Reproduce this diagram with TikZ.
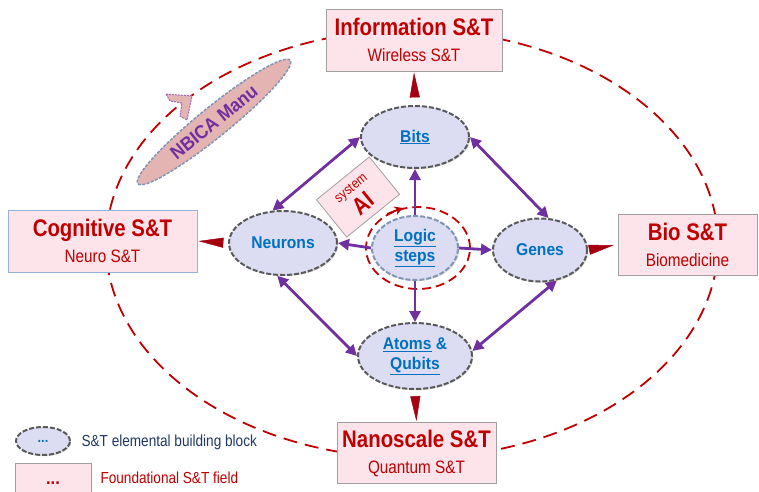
\documentclass[tikz,border=0pt]{standalone}
\usepackage{fontspec}
\setmainfont{Liberation Sans}
\newfontfamily\nfam{Liberation Sans}[FakeStretch=0.85]
\newfontfamily\wfam{Liberation Sans}[FakeStretch=0.92]
\usetikzlibrary{shapes.geometric,arrows.meta,shadows}
\definecolor{dkred}{HTML}{C00000}
\definecolor{wred}{HTML}{A50010}
\definecolor{pinkfill}{HTML}{FDE4EA}
\definecolor{boxgray}{HTML}{A0A0A0}
\definecolor{cogblue}{HTML}{95B3D7}
\definecolor{lav}{HTML}{DCDDF3}
\definecolor{ellgray}{HTML}{5A5A5A}
\definecolor{ellblue}{HTML}{7F95B5}
\definecolor{purp}{HTML}{7030A0}
\definecolor{blu}{HTML}{0070C0}
\definecolor{rosy}{HTML}{E3B4B2}
\definecolor{navy}{HTML}{1F3864}
\begin{document}
\begin{tikzpicture}[x=1pt,y=-1pt,
  fbox/.style={draw=boxgray, line width=0.8pt, fill=pinkfill, text=dkred, align=center,
    font=\nfam\fontsize{18}{26}\selectfont, inner sep=0pt},
  blk/.style={ellipse, draw=ellgray, line width=2pt, dash pattern=on 5pt off 2pt, fill=lav,
    text=blu, font=\wfam\bfseries\fontsize{17}{20}\selectfont, align=center, inner sep=0pt,
    drop shadow={opacity=0.3, shadow xshift=1.2pt, shadow yshift=-1.2pt}},
  parrow/.style={draw=purp, line width=2.8pt},
  >={Triangle[length=11pt,width=11pt]},
  wedge/.style={draw=wred, fill=wred, line width=0.5pt, -{Triangle[length=25pt,width=10pt]}},
  bigring/.style={draw=dkred, line width=1.8pt, dash pattern=on 14pt off 8pt},
]
\useasboundingbox (0,0) rectangle (759,491);
\clip (0,0) rectangle (759,491);

% big dashed ellipse
\draw[bigring] (412,244) ellipse [x radius=306, y radius=214];

% foundational fields
\node[fbox, minimum width=176pt, minimum height=62pt] (info) at (414,40)
  {{\bfseries\fontsize{24}{26}\selectfont Information S\&T}\\Wireless S\&T};
\node[fbox, draw=cogblue, minimum width=189pt, minimum height=62pt] (cog) at (102.5,241)
  {{\bfseries\fontsize{24}{26}\selectfont Cognitive S\&T}\\Neuro S\&T};
\node[fbox, minimum width=139pt, minimum height=61pt] (bio) at (687.5,244.5)
  {{\bfseries\fontsize{24}{26}\selectfont Bio S\&T}\\Biomedicine};
\node[fbox, minimum width=159pt, minimum height=61pt] (nano) at (416.5,453)
  {{\bfseries\fontsize{24}{26}\selectfont Nanoscale S\&T}\\Quantum S\&T};

% building blocks
\node[blk, minimum width=108pt, minimum height=62pt] (bits) at (415,137) {\underline{Bits}};
\node[blk, minimum width=108pt, minimum height=64pt] (neurons) at (283,243) {Neurons};
\node[blk, minimum width=94pt, minimum height=63pt] (genes) at (540,250) {Genes};
\node[blk, draw=ellblue, minimum width=86pt, minimum height=64pt] (logic) at (415,248)
  {\underline{Logic}\\\underline{steps}};
\node[blk, minimum width=114pt, minimum height=66pt] (atoms) at (415,356)
  {\underline{Atoms} \&\\\underline{Qubits}};

% red ring around logic
\node[ellipse, draw=dkred, line width=1.8pt, dash pattern=on 9pt off 5pt,
  minimum width=104pt, minimum height=82pt, inner sep=0pt] (ring) at (418,248) {};
\draw[dkred, line width=1.8pt, -{Stealth[length=8pt,width=9pt]}] (ring.132) -- (ring.111);

% wedges to fields
\draw[wedge, shorten <=8pt, shorten >=1pt] (bits.north) -- (info.south);
\draw[wedge, shorten <=7pt, shorten >=1pt] (neurons.west) -- (cog.east);
\draw[wedge, shorten <=1pt, shorten >=4pt] (genes.east) -- (bio.west);
\draw[wedge, shorten <=6pt, shorten >=1pt] (atoms.south) -- (nano.north);

% purple connectors
\draw[parrow, <->] (neurons.108) -- (bits.180);
\draw[parrow, <->] (bits.0) -- (genes.75);
\draw[parrow, <->] (neurons.260) -- (atoms.180);
\draw[parrow, <->] (atoms.5) -- (genes.299);
\draw[parrow, ->] (logic.north) -- (bits.south);
\draw[parrow, ->] (logic.west) -- (neurons.east);
\draw[parrow, ->] (logic.east) -- (genes.west);
\draw[parrow, ->] (logic.south) -- (atoms.north);

% system AI
\node[rotate=39, minimum width=68pt, minimum height=48pt, fill=pinkfill, draw=boxgray,
  line width=0.8pt, text=dkred, align=center, inner sep=0pt,
  font=\nfam\fontsize{14}{16}\selectfont] (sysai) at (358,197)
  {system\\[3pt]{\bfseries\fontsize{24}{22}\selectfont AI}};

% NBICA Manu
\node[ellipse, rotate=39, minimum width=196pt, minimum height=30pt, fill=rosy, draw=ellblue,
  line width=1.5pt, dash pattern=on 3pt off 1.5pt, text=purp, inner sep=0pt,
  font=\wfam\bfseries\fontsize{19}{20}\selectfont] (nbica) at (214,122) {NBICA Manu};
\filldraw[fill=rosy, draw=purp!70, line width=1pt, dash pattern=on 2pt off 1pt]
  (166,94) -- (192,96) -- (187,120) -- (180,116) -- (182,103) -- (170,101) -- cycle;

% legend
\node[blk, minimum width=54pt, minimum height=28pt, font=\wfam\bfseries\fontsize{14}{14}\selectfont] (legblk) at (43,441) {...};
\node[anchor=west, text=navy, font=\nfam\fontsize{16}{18}\selectfont] (legblktxt) at (78,442)
  {S\&T elemental building block};
\node[fill=pinkfill, draw=boxgray, line width=0.8pt, minimum width=76pt, minimum height=40pt,
  text=dkred, font=\wfam\bfseries\fontsize{18}{18}\selectfont] (legbox) at (53,483) {...};
\node[anchor=west, text=dkred, font=\nfam\fontsize{16}{18}\selectfont] (legboxtxt) at (97,478)
  {Foundational S\&T field};
\end{tikzpicture}
\end{document}
